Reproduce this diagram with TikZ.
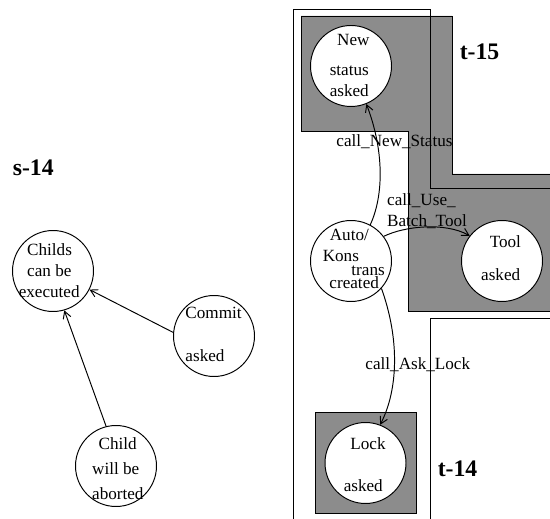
\documentclass[tikz,border=0pt]{standalone}
\usepackage{fontspec}
\setmainfont{Liberation Serif}
\usetikzlibrary{calc,arrows.meta}
\definecolor{greyx}{HTML}{8C8C8C}
\tikzset{
  st/.style={circle,draw,fill=white,minimum size=1.62cm,inner sep=0pt},
  gbox/.style={rectangle,draw,fill=greyx,minimum size=2.02cm,inner sep=0pt},
  tx/.style={align=left,anchor=north west,inner sep=0pt},
  lb/.style={anchor=base west,inner sep=0pt},
  big/.style={lb,font=\fontsize{13.5pt}{16pt}\selectfont\bfseries},
  ar/.style={-{Straight Barb[length=4pt,width=4.5pt]}}
}

\begin{document}
\begin{tikzpicture}[x=0.02cm,y=0.02cm,line width=0.55pt,font=\fontsize{9.75pt}{11.9pt}\selectfont]
\useasboundingbox (0,0) rectangle (550,-519);
\fill[greyx] (550,-174) -- (452,-174) -- (452,-16) -- (301,-16) -- (301,-131) -- (408,-131) -- (408,-311) -- (550,-311) -- cycle;
\draw (550,-174) -- (452,-174) -- (452,-16) -- (301,-16) -- (301,-131) -- (408,-131) -- (408,-311) -- (550,-311);
\draw (293,-519) -- (293,-9) -- (430,-9) -- (430,-188) -- (550,-188);
\draw (430,-519) -- (430,-318) -- (550,-318);
\node[gbox] (lockbox) at (365.5,-462.5) {};
\node[st] (new) at (351,-66) {};
\node[st] (auto) at (351,-261) {};
\node[st] (tool) at (502,-261) {};
\node[st] (lock) at (365.5,-463) {};
\node[st] (childs) at (53,-271) {};
\node[st] (commit) at (214,-336) {};
\node[st] (child) at (116,-466) {};
\node[tx] (newt) at ($(new)+(-21.7,32.3)$) {\hspace*{4.2pt}New\\[5.1pt]status\\asked};
\node[tx] (autot) at ($(auto)+(-28.7,32)$) {\hspace*{4pt}Auto/\\[-0.3pt]Kons\\[-3.9pt]\hspace*{16.3pt}trans\\[-4.1pt]\hspace*{3.8pt}created};
\node[tx] (toolt) at ($(tool)+(-21.3,26)$) {\hspace*{4.9pt}Tool\\[7pt]asked};
\node[tx] (lockt) at ($(lock)+(-22.2,25.7)$) {\hspace*{3.8pt}Lock\\[11.7pt]asked};
\node[tx] (childst) at ($(childs)+(-34.7,27.7)$) {\hspace*{4.8pt}Childs\\\hspace*{4.8pt}can be\\executed};
\node[tx] (committ) at ($(commit)+(-29,29.3)$) {Commit\\[12.7pt]asked};
\node[tx] (childt) at ($(child)+(-24.3,29.3)$) {\hspace*{3.7pt}Child\\[2.3pt]will be\\[2.8pt]aborted};
\draw[ar] (auto.62) .. controls (384,-195) and (384,-150) .. (new.-68);
\draw[ar] (auto.37) .. controls (405,-226) and (445,-222) .. (tool.142);
\draw[ar] (auto.-42) .. controls (400,-340) and (398,-390) .. (lock.69);
\foreach \p/\q in {commit.175/childs.-27,child.104/childs.-74}{\draw[ar] (\p)--(\q);}
\node[lb] (lnew) at (336,-146.7) {call\_New\_Status};
\node[tx] (luse) at (386.7,-193) {call\_Use\_\\Batch\_Tool};
\node[lb] (lask) at (365,-370) {call\_Ask\_Lock};
\node[big] (s14) at (12.3,-175.7) {s-14};
\node[big] (t15) at (459.3,-60) {t-15};
\node[big] (t14) at (437.3,-476.7) {t-14};
\end{tikzpicture}
\end{document}
